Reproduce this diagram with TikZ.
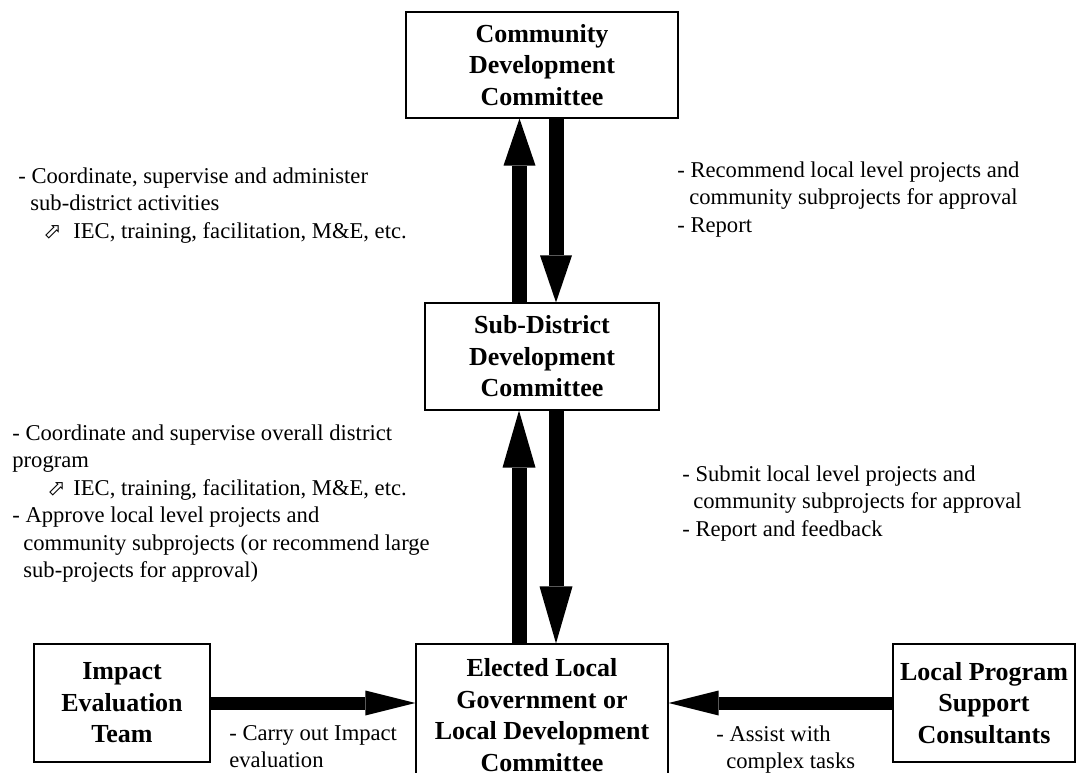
\documentclass[tikz,border=0pt]{standalone}
\usepackage{fontspec}
\setmainfont{Liberation Serif}
\newfontfamily\symfont{DejaVu Sans}
\usetikzlibrary{arrows.meta}
\newcommand{\iecicon}{{\symfont\fontsize{11}{12}\selectfont ⬀}}
\begin{document}
\begin{tikzpicture}[x=0.5pt,y=-0.5pt,
  box/.style={draw, line width=0.6pt, inner sep=0pt, align=center,
    font=\bfseries\fontsize{13}{15.75}\selectfont},
  note/.style={inner sep=0pt, anchor=north west, align=left,
    font=\fontsize{11.3}{13.75}\selectfont},
  uparrowA/.style={line width=7.5pt, -{Triangle[length=23.5pt,width=16pt,line width=0pt]}},
  uparrowB/.style={line width=7.5pt, -{Triangle[length=28.5pt,width=16.5pt,line width=0pt]}},
  harrow/.style={line width=6.5pt, -{Triangle[length=25pt,width=12.5pt,line width=0pt]}}
]
\useasboundingbox (0,0) rectangle (1079,772);
\clip (0,0) rectangle (1079,772);
\fill[white] (0,0) rectangle (1079,772);

% boxes
\node[box, minimum width=136pt, minimum height=53pt] (cdc) at (542,65)
  {Community\\Development\\Committee};
\node[box, minimum width=117pt, minimum height=53.5pt] (sdc) at (542,356.5)
  {Sub-District\\Development\\Committee};
\node[box, minimum width=126pt, minimum height=71pt] (elg) at (542,715)
  {Elected Local\\Government or\\Local Development\\Committee};
\node[box, minimum width=88pt, minimum height=59pt] (iet) at (122,703)
  {Impact\\Evaluation\\Team};
\node[box, minimum width=91pt, minimum height=59pt] (lps) at (984,703)
  {Local Program\\Support\\Consultants};

% vertical arrows
\draw[uparrowA] ([xshift=-11.25pt]sdc.north) -- ([xshift=-11.25pt]cdc.south);
\draw[uparrowA] ([xshift=7pt]cdc.south) -- ([xshift=7pt]sdc.north);
\draw[uparrowB] ([xshift=-11.5pt]elg.north) -- ([xshift=-11.5pt]sdc.south);
\draw[uparrowB] ([xshift=7pt]sdc.south) -- ([xshift=7pt]elg.north);

% horizontal arrows
\draw[harrow] (iet.east) -- (iet.east -| elg.west);
\draw[harrow] (lps.west) -- (lps.west -| elg.east);

% notes
\node[note] (n1) at (18,167)
  {- Coordinate, supervise and administer\\
   \hspace*{6pt}sub-district activities\\
   \hspace*{12.5pt}\makebox[15pt][l]{\iecicon}IEC, training, facilitation, M\&E, etc.};
\node[note] (n2) at (12,424)
  {- Coordinate and supervise overall district\\
   program\\
   \hspace*{17.5pt}\makebox[13pt][l]{\iecicon}IEC, training, facilitation, M\&E, etc.\\
   - Approve local level projects and\\
   \hspace*{5.5pt}community subprojects (or recommend large\\
   \hspace*{5.5pt}sub-projects for approval)};
\node[note] (n3) at (677,161)
  {- Recommend local level projects and\\
   \hspace*{6pt}community subprojects for approval\\
   - Report};
\node[note] (n4) at (682,465)
  {- Submit local level projects and\\
   \hspace*{5.5pt}community subprojects for approval\\
   - Report and feedback};
\node[note] (n5) at (229,725)
  {- Carry out Impact\\evaluation};
\node[note] (n6) at (716,725)
  {- Assist with\\\hspace*{5pt}complex tasks};
\end{tikzpicture}
\end{document}
